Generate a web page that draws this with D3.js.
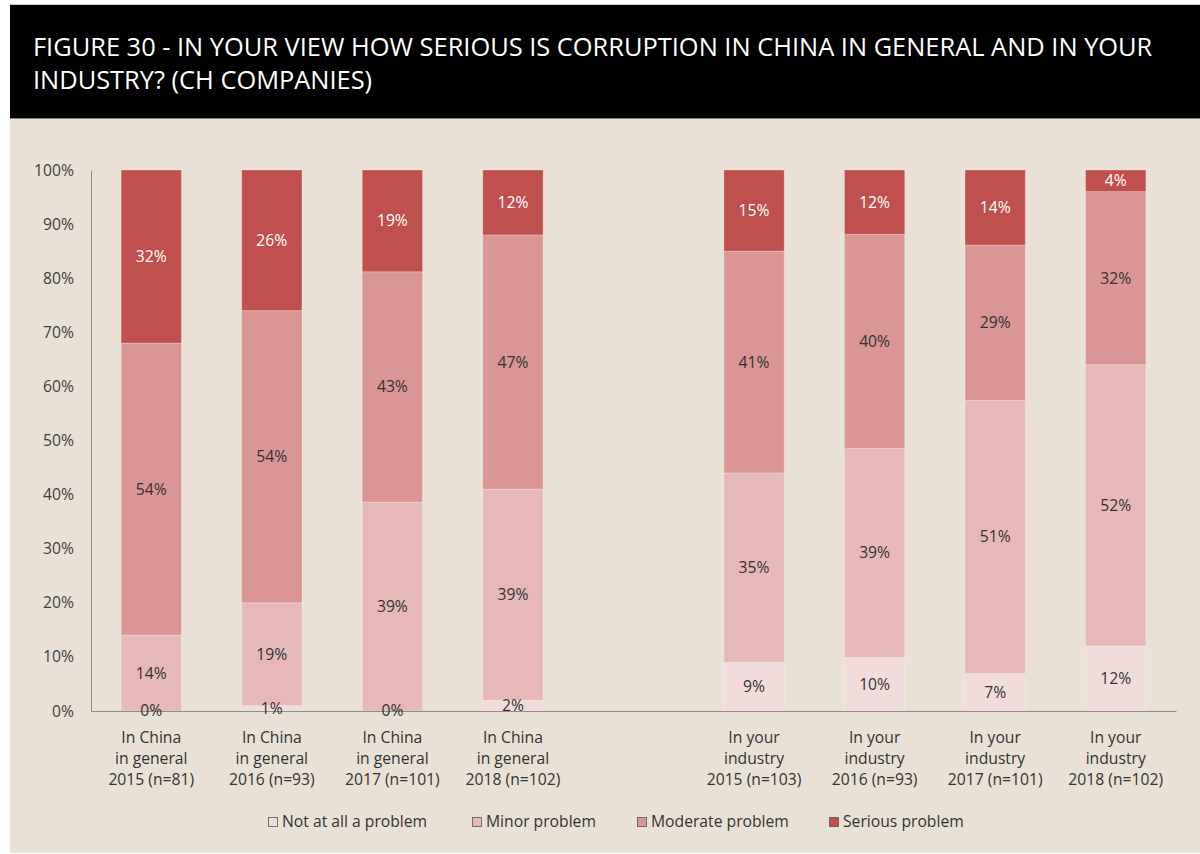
<!DOCTYPE html>
<html><head><meta charset="utf-8">
<script src="https://cdn.jsdelivr.net/npm/d3@7"></script>
<style>
html,body{margin:0;padding:0;background:#fff;}
svg{display:block;font-family:"Open Sans","Noto Sans",sans-serif;}
</style></head>
<body>
<svg id="chart" width="1200" height="854"></svg>
<script>
const titleLines = ["FIGURE 30 - IN YOUR VIEW HOW SERIOUS IS CORRUPTION IN CHINA IN GENERAL AND IN YOUR", "INDUSTRY? (CH COMPANIES)"];
const categories = [
  ["In China","in general","2015 (n=81)"],
  ["In China","in general","2016 (n=93)"],
  ["In China","in general","2017 (n=101)"],
  ["In China","in general","2018 (n=102)"],
  ["In your","industry","2015 (n=103)"],
  ["In your","industry","2016 (n=93)"],
  ["In your","industry","2017 (n=101)"],
  ["In your","industry","2018 (n=102)"]
];
const seriesNames = ["Not at all a problem","Minor problem","Moderate problem","Serious problem"];
const notAtAll = [0, 1, 0, 2, 9, 10, 7, 12];
const minor    = [14, 19, 39, 39, 35, 39, 51, 52];
const moderate = [54, 54, 43, 47, 41, 40, 29, 32];
const serious  = [32, 26, 19, 12, 15, 12, 14, 4];
const yTicks = [0,0.1,0.2,0.3,0.4,0.5,0.6,0.7,0.8,0.9,1];
const colors = ["#f2dcdb","#e6b9b8","#d99694","#c0504d"];
const labelColors = ["#333","#333","#333","#fff"];
const FS = 15.7;

const svg = d3.select("#chart");
svg.append("rect").attr("x",10).attr("y",118).attr("width",1190).attr("height",735).attr("fill","#e9e1d5");
svg.append("rect").attr("x",10).attr("y",5).attr("width",1190).attr("height",113).attr("fill","#000");
svg.append("line").attr("x1",10).attr("x2",1200).attr("y1",4.5).attr("y2",4.5).attr("stroke","#ccc");
svg.append("line").attr("x1",10).attr("x2",1200).attr("y1",118.5).attr("y2",118.5).attr("stroke","#8a8178");

const tg = svg.append("g");
let titleFs = 25;
titleLines.forEach((t,i)=>{
  const el = tg.append("text").attr("x",33).attr("y",56+i*33).attr("fill","#fff")
    .attr("font-size",25).attr("font-weight",400).text(t);
  if(i===0){
    const w = el.node().getComputedTextLength();
    titleFs = 25*1120/w;
  }
  el.attr("font-size", titleFs);
});

const keys = categories.map((c,i)=>"c"+i);
const domain = [...keys.slice(0,4),"gap",...keys.slice(4)];
const x = d3.scaleBand().domain(domain).range([91,1176]).paddingInner(0.5).paddingOuter(0.25);
const y = d3.scaleLinear().domain([0,1]).range([711,170]);

const rows = keys.map((k,i)=>({key:k, s0:notAtAll[i], s1:minor[i], s2:moderate[i], s3:serious[i]}));
const stack = d3.stack().keys(["s0","s1","s2","s3"]).offset(d3.stackOffsetExpand);
const layers = stack(rows);
const vals = [notAtAll, minor, moderate, serious];

const yAxis = d3.axisLeft(y).tickValues(yTicks).tickFormat(d3.format(".0%")).tickSize(0).tickPadding(17);
const ya = svg.append("g").attr("transform","translate(91,0)").call(yAxis);
ya.select(".domain").attr("stroke","#8c8c8c");
ya.selectAll("text").attr("font-size",FS).attr("fill","#404040").attr("font-family","Open Sans, sans-serif");

layers.forEach((layer,li)=>{
  const g = svg.append("g");
  g.selectAll("rect").data(layer).join("rect")
    .attr("x",d=>x(d.data.key)).attr("width",x.bandwidth())
    .attr("y",d=>y(d[1])).attr("height",d=>y(d[0])-y(d[1]))
    .attr("fill",colors[li]).attr("stroke","rgba(255,255,255,0.25)").attr("stroke-width",1);
});
const xa = svg.append("g").attr("transform","translate(0,711)").call(d3.axisBottom(x).tickSize(0).tickFormat(""));
xa.select(".domain").attr("stroke","#8c8c8c");
layers.forEach((layer,li)=>{
  svg.append("g").selectAll("text").data(layer).join("text")
    .attr("x",d=>x(d.data.key)+x.bandwidth()/2)
    .attr("y",d=>(y(d[0])+y(d[1]))/2)
    .attr("dy","0.35em").attr("text-anchor","middle")
    .attr("font-size",FS).attr("fill",labelColors[li])
    .text((d,i)=>vals[li][i]+"%");
});
const cl = svg.append("g");
keys.forEach((k,i)=>{
  categories[i].forEach((line,j)=>{
    cl.append("text").attr("x",x(k)+x.bandwidth()/2).attr("y",738+j*21).attr("dy","0.35em")
      .attr("text-anchor","middle").attr("font-size",FS).attr("fill","#333").text(line);
  });
});
const legX = [268,472,637,829];
const lg = svg.append("g");
seriesNames.forEach((n,i)=>{
  lg.append("rect").attr("x",legX[i]+0.5).attr("y",817.5).attr("width",9).attr("height",9)
    .attr("fill",colors[i]).attr("stroke","#555").attr("stroke-width",0.8);
  lg.append("text").attr("x",legX[i]+14).attr("y",822).attr("dy","0.35em")
    .attr("font-size",FS).attr("fill","#333").text(n);
});
</script>
</body></html>
